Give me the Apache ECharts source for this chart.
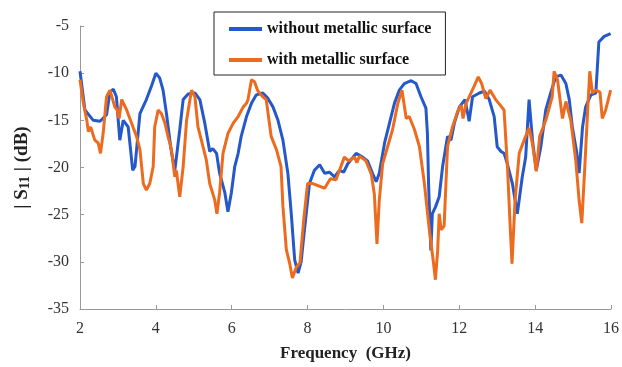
<!DOCTYPE html>
<html>
<head>
<meta charset="utf-8">
<script src="https://cdn.jsdelivr.net/npm/echarts@6/dist/echarts.min.js"></script>
<style>
  html, body { margin: 0; padding: 0; background: #fff; }
  #chart { width: 622px; height: 367px; }
</style>
</head>
<body>
<div id="chart"></div>
<script>
// without metallic surface
const freqWithout = [
  2.0, 2.13, 2.35, 2.53, 2.7, 2.79, 2.88, 2.96, 3.0, 3.05, 3.14, 3.27, 3.39, 3.45, 3.58, 3.75, 3.89, 4.0, 4.1, 4.19,
  4.28, 4.4, 4.5, 4.63, 4.72, 4.85, 5.03, 5.16, 5.29, 5.42, 5.5, 5.6, 5.68, 5.82, 5.9, 5.99, 6.08, 6.17, 6.25, 6.39,
  6.52, 6.65, 6.82, 6.96, 7.09, 7.22, 7.35, 7.48, 7.57, 7.66, 7.75, 7.83, 7.9, 8.05, 8.18, 8.32, 8.45, 8.58, 8.71, 8.84,
  8.95, 9.06, 9.28, 9.45, 9.58, 9.72, 9.81, 9.89, 10.03, 10.16, 10.29, 10.42, 10.55, 10.73, 10.86, 10.99, 11.12, 11.16, 11.19, 11.25,
  11.29, 11.37, 11.47, 11.56, 11.69, 11.78, 11.87, 12.0, 12.15, 12.26, 12.35, 12.53, 12.66, 12.79, 12.92, 13.0, 13.1, 13.18, 13.26, 13.4,
  13.53, 13.66, 13.75, 13.84, 13.93, 14.03, 14.15, 14.28, 14.41, 14.54, 14.68, 14.81, 14.9, 14.98, 15.1, 15.16, 15.25, 15.33, 15.47, 15.6,
  15.68, 15.82, 15.99
];
const s11Without = [
  -9.8, -13.9, -15.0, -15.1, -14.4, -12.0, -11.7, -12.5, -14.6, -17.1, -15.0, -15.7, -20.3, -19.9, -14.3, -12.8, -11.3, -10.0, -10.5, -11.8,
  -14.3, -18.1, -20.3, -16.0, -12.8, -12.2, -12.1, -12.8, -15.3, -18.3, -18.0, -18.5, -20.6, -22.7, -24.7, -22.7, -19.9, -18.5, -16.7, -14.6,
  -13.2, -12.3, -12.1, -12.7, -13.6, -15.0, -17.1, -20.6, -24.9, -29.8, -31.2, -30.0, -27.3, -21.7, -20.3, -19.7, -20.6, -20.5, -21.0, -20.3,
  -20.5, -19.6, -18.5, -18.9, -19.3, -20.7, -21.5, -20.6, -17.4, -15.3, -13.2, -11.8, -11.1, -10.8, -11.1, -12.5, -13.7, -16.4, -21.7, -28.8,
  -24.9, -24.2, -23.1, -19.9, -16.7, -17.1, -15.3, -13.6, -12.8, -15.1, -12.5, -12.1, -11.9, -12.8, -14.6, -17.8, -18.3, -18.5, -19.5, -21.7,
  -24.9, -21.0, -18.9, -12.8, -17.1, -20.3, -17.8, -13.9, -12.1, -10.4, -10.2, -11.1, -12.8, -15.7, -18.5, -20.6, -15.7, -13.6, -12.3, -12.1,
  -6.7, -6.1, -5.8
];

// with metallic surface
const freqWith = [
  2.0, 2.09, 2.18, 2.22, 2.28, 2.39, 2.48, 2.54, 2.61, 2.7, 2.79, 2.92, 2.98, 3.03, 3.1, 3.23, 3.36, 3.49, 3.58, 3.67,
  3.75, 3.84, 3.93, 3.97, 4.06, 4.15, 4.24, 4.32, 4.41, 4.5, 4.54, 4.63, 4.72, 4.81, 4.94, 5.03, 5.11, 5.2, 5.33, 5.42,
  5.55, 5.61, 5.68, 5.77, 5.9, 6.04, 6.17, 6.3, 6.39, 6.43, 6.52, 6.6, 6.69, 6.82, 6.91, 7.04, 7.18, 7.3, 7.35, 7.44,
  7.53, 7.6, 7.7, 7.8, 7.9, 8.0, 8.14, 8.45, 8.6, 8.75, 8.97, 9.08, 9.24, 9.3, 9.37, 9.54, 9.68, 9.76, 9.83, 9.89,
  9.98, 10.11, 10.24, 10.38, 10.49, 10.6, 10.68, 10.82, 10.95, 11.08, 11.21, 11.32, 11.37, 11.43, 11.47, 11.52, 11.6, 11.69, 11.82, 11.96,
  12.05, 12.1, 12.18, 12.31, 12.39, 12.5, 12.59, 12.7, 12.81, 12.96, 13.1, 13.18, 13.27, 13.33, 13.39, 13.47, 13.58, 13.71, 13.84, 13.93,
  14.03, 14.12, 14.28, 14.45, 14.5, 14.59, 14.72, 14.81, 14.94, 15.07, 15.16, 15.23, 15.31, 15.38, 15.44, 15.51, 15.6, 15.71, 15.77, 15.86,
  15.99
];
const s11With = [
  -10.7, -13.2, -15.0, -16.2, -15.7, -17.1, -17.4, -18.5, -16.4, -12.5, -11.8, -13.6, -13.9, -14.8, -12.8, -13.9, -15.3, -16.7, -18.1, -21.7,
  -22.4, -21.7, -19.9, -15.7, -13.9, -14.3, -15.3, -16.7, -18.1, -21.0, -20.3, -23.1, -19.9, -15.0, -11.8, -12.5, -15.7, -17.1, -19.2, -21.7,
  -23.4, -24.9, -22.7, -18.5, -16.4, -15.3, -14.6, -13.6, -13.2, -12.8, -10.7, -10.9, -11.9, -12.5, -12.8, -16.7, -18.1, -19.9, -24.1, -28.7,
  -30.2, -31.7, -30.6, -30.1, -25.5, -21.7, -21.7, -22.2, -21.2, -21.3, -18.9, -19.3, -18.9, -19.5, -18.8, -19.3, -20.7, -22.8, -28.1, -23.5,
  -19.6, -17.8, -16.0, -13.2, -11.8, -14.8, -14.6, -16.0, -17.8, -21.7, -26.6, -30.1, -31.9, -28.8, -24.9, -26.6, -26.2, -17.8, -15.7, -14.0,
  -13.4, -14.8, -13.2, -12.1, -11.4, -10.4, -11.1, -12.7, -11.8, -12.8, -13.5, -13.9, -19.9, -25.2, -30.2, -23.5, -18.5, -17.1, -15.8, -17.5,
  -20.4, -16.7, -15.0, -12.5, -9.8, -10.7, -14.8, -13.0, -15.0, -19.2, -23.5, -25.9, -19.9, -14.3, -9.8, -12.1, -11.8, -12.0, -14.8, -13.9,
  -11.8
];

const serif = "'Liberation Serif', 'DejaVu Serif', serif";

const chart = echarts.init(document.getElementById("chart"));

const option = {
  animation: false,
  backgroundColor: "#fff",
  grid: { left: 80, right: 10, top: 26, bottom: 58 },
  legend: {
    orient: "vertical",
    left: 214,
    top: 12,
    padding: [9, 14, 7, 15],
    itemGap: 15,
    icon: "rect",
    itemWidth: 33,
    itemHeight: 4,
    borderColor: "#222",
    borderWidth: 1,
    textStyle: { fontFamily: serif, fontWeight: "bold", fontSize: 16, color: "#111" },
    data: ["without metallic surface", "with metallic surface"],
  },
  xAxis: {
    type: "value",
    min: 2,
    max: 16,
    interval: 2,
    name: "Frequency  (GHz)",
    nameLocation: "middle",
    nameGap: 36,
    nameTextStyle: { fontFamily: serif, fontWeight: "bold", fontSize: 17, color: "#222" },
    axisLine: { lineStyle: { color: "#999" } },
    axisTick: { inside: true, length: 4, lineStyle: { color: "#999" } },
    axisLabel: { fontFamily: serif, fontSize: 16, color: "#333", margin: 12 },
    splitLine: { show: false },
  },
  yAxis: {
    type: "value",
    min: -35,
    max: -5,
    interval: 5,
    name: "| S{sub|11} | (dB)",
    nameLocation: "middle",
    nameGap: 48,
    nameRotate: 90,
    nameTextStyle: {
      fontFamily: serif,
      fontWeight: "bold",
      fontSize: 19,
      color: "#222",
      rich: {
        sub: { fontFamily: serif, fontWeight: "bold", fontSize: 14, color: "#222", padding: [6, 0, 0, 0] },
      },
    },
    axisLine: { show: true, lineStyle: { color: "#999" } },
    axisTick: { show: true, inside: true, length: 4, lineStyle: { color: "#999" } },
    axisLabel: { fontFamily: serif, fontSize: 16, color: "#333", margin: 11 },
    splitLine: { show: false },
  },
  series: [
    {
      name: "without metallic surface",
      type: "line",
      data: freqWithout.map((f, i) => [f, s11Without[i]]),
      showSymbol: false,
      color: "#2558c8",
      lineStyle: { width: 3, color: "#2558c8" },
      z: 2,
    },
    {
      name: "with metallic surface",
      type: "line",
      data: freqWith.map((f, i) => [f, s11With[i]]),
      showSymbol: false,
      color: "#ec6b1e",
      lineStyle: { width: 3, color: "#ec6b1e" },
      z: 3,
    },
  ],
};

chart.setOption(option);
</script>
</body>
</html>
